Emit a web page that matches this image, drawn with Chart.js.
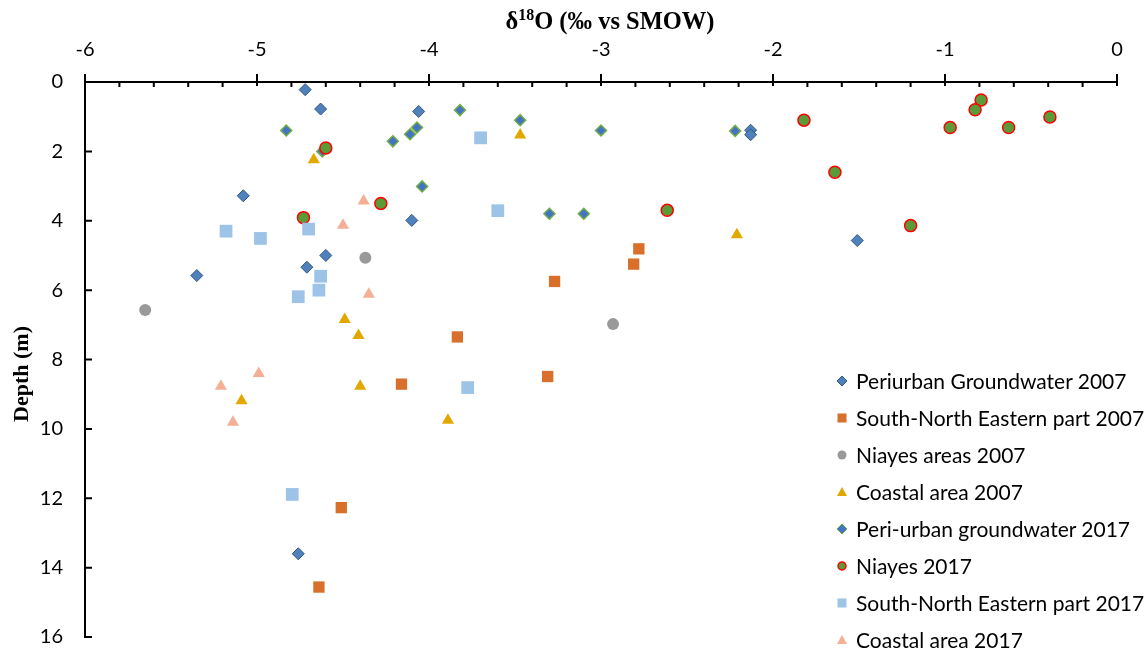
<!DOCTYPE html>
<html>
<head>
<meta charset="utf-8">
<script src="https://cdn.jsdelivr.net/npm/chart.js@4.4.1/dist/chart.umd.min.js"></script>
<style>
  body { margin: 0; background: #fff; overflow: hidden; }
  #wrap { position: relative; width: 1148px; height: 651px; overflow: hidden; }
  canvas { display: block; }
  #xtitle { position: absolute; left: 410px; width: 400px; top: 7px; text-align: center;
    font: bold 24.5px "Liberation Serif", serif; color: #000; }
  #xtitle sup { font-size: 16px; vertical-align: 9px; line-height: 0; }
  #ytitle { position: absolute; left: 22px; top: 374px; width: 200px; margin-left: -100px; margin-top: -14px;
    height: 28px; line-height: 28px; text-align: center; transform: rotate(-90deg);
    font: bold 22px "Liberation Serif", serif; color: #000; }
  #legend { position: absolute; left: 834px; top: 362px; font: 21px Lato, sans-serif; color: #000; }
  .row { height: 37px; display: flex; align-items: center; white-space: nowrap; }
  .row svg { width: 16px; height: 16px; margin-right: 6px; }
</style>
</head>
<body>
<div id="wrap">
  <canvas id="chart" width="1148" height="651"></canvas>
  <div id="xtitle">δ<sup>18</sup>O (‰ vs SMOW)</div>
  <div id="ytitle">Depth (m)</div>
  <div id="legend"></div>
</div>
<script>
// values: delta18O (x) and depth in m (y)
const periurban2007X = [-4.72, -4.63, -4.06, -2.13, -2.13, -5.08, -4.10, -1.51, -4.60, -4.71, -5.35, -4.76];
const periurban2007Y = [0.22, 0.78, 0.85, 1.39, 1.52, 3.28, 3.99, 4.57, 5.00, 5.34, 5.58, 13.60];

const snEastern2007X = [-2.78, -2.81, -3.27, -3.835, -3.31, -4.16, -4.51, -4.64];
const snEastern2007Y = [4.81, 5.25, 5.75, 7.35, 8.49, 8.71, 12.27, 14.56];

const niayes2007X = [-4.37, -5.65, -2.93];
const niayes2007Y = [5.07, 6.57, 6.98];

const coastal2007X = [-3.47, -4.67, -2.21, -4.49, -4.41, -4.40, -5.09, -3.89];
const coastal2007Y = [1.53, 2.24, 4.40, 6.85, 7.31, 8.77, 9.19, 9.75];

const periurban2017X = [-3.82, -3.47, -4.83, -3.00, -2.22, -4.07, -4.11, -4.21, -4.62, -4.04, -3.30, -3.10];
const periurban2017Y = [0.81, 1.10, 1.40, 1.40, 1.41, 1.31, 1.505, 1.71, 2.00, 3.01, 3.80, 3.80];

const niayes2017X = [-0.79, -0.825, -0.39, -1.82, -0.97, -0.63, -4.60, -1.64, -4.28, -2.615, -4.73, -1.20];
const niayes2017Y = [0.52, 0.80, 1.01, 1.10, 1.31, 1.31, 1.90, 2.60, 3.50, 3.70, 3.91, 4.14];

const snEastern2017X = [-3.70, -3.60, -5.18, -4.70, -4.98, -4.63, -4.64, -4.76, -3.775, -4.795];
const snEastern2017Y = [1.61, 3.71, 4.30, 4.24, 4.51, 5.60, 6.00, 6.19, 8.81, 11.89];

const coastal2017X = [-4.38, -4.50, -4.35, -4.99, -5.21, -5.14];
const coastal2017Y = [3.43, 4.13, 6.12, 8.40, 8.77, 9.81];

const xTicks = [-6, -5, -4, -3, -2, -1, 0];
const yTicks = [0, 2, 4, 6, 8, 10, 12, 14, 16];

const zip = (xs, ys) => xs.map((x, i) => ({ x, y: ys[i] }));

const series = [
  { label: 'Periurban Groundwater 2007', data: zip(periurban2007X, periurban2007Y),
    pointStyle: 'rectRot', pointRadius: 6, backgroundColor: '#4F81BD', borderColor: '#34567E', borderWidth: 1 },
  { label: 'South-North Eastern part 2007', data: zip(snEastern2007X, snEastern2007Y),
    pointStyle: 'rect', pointRadius: 8, backgroundColor: '#D86F2A', borderColor: '#D86F2A', borderWidth: 0 },
  { label: 'Niayes areas 2007', data: zip(niayes2007X, niayes2007Y),
    pointStyle: 'circle', pointRadius: 6, backgroundColor: '#999999', borderColor: '#999999', borderWidth: 0 },
  { label: 'Coastal area 2007', data: zip(coastal2007X, coastal2007Y),
    pointStyle: 'triangle', pointRadius: 7, backgroundColor: '#E3A800', borderColor: '#E3A800', borderWidth: 0 },
  { label: 'Peri-urban groundwater 2017', data: zip(periurban2017X, periurban2017Y),
    pointStyle: 'rectRot', pointRadius: 5.5, backgroundColor: '#4472C4', borderColor: '#70AD47', borderWidth: 1.5 },
  { label: 'Niayes 2017', data: zip(niayes2017X, niayes2017Y),
    pointStyle: 'circle', pointRadius: 6, backgroundColor: '#5B9A38', borderColor: '#FF0000', borderWidth: 1.5 },
  { label: 'South-North Eastern part 2017', data: zip(snEastern2017X, snEastern2017Y),
    pointStyle: 'rect', pointRadius: 9, backgroundColor: '#9DC3E6', borderColor: '#9DC3E6', borderWidth: 0 },
  { label: 'Coastal area 2017', data: zip(coastal2017X, coastal2017Y),
    pointStyle: 'triangle', pointRadius: 7, backgroundColor: '#F4AF96', borderColor: '#F4AF96', borderWidth: 0 }
];

// excel stacks later series on top
series.forEach((s, i) => { s.order = series.length - 1 - i; s.pointHoverRadius = s.pointRadius; });

// axis lines with inner minor ticks on top, major ticks crossing
const axisPlugin = {
  id: 'axisLines',
  beforeDatasetsDraw(chart) {
    const { ctx, chartArea: a, scales } = chart;
    const sx = scales.x, sy = scales.y;
    ctx.save();
    ctx.strokeStyle = '#000';
    ctx.lineWidth = 2;
    ctx.beginPath();
    ctx.moveTo(a.left - 1, a.top);
    ctx.lineTo(a.right + 1, a.top);
    ctx.moveTo(a.left, a.top);
    ctx.lineTo(a.left, a.bottom + 1);
    for (let i = 0; i <= 30; i++) {
      const px = sx.getPixelForValue(xTicks[0] + i * 0.2);
      if (i % 5 === 0) { ctx.moveTo(px, a.top - 8); ctx.lineTo(px, a.top + 4); }
      else { ctx.moveTo(px, a.top); ctx.lineTo(px, a.top + 5); }
    }
    yTicks.forEach(v => {
      const py = sy.getPixelForValue(v);
      ctx.moveTo(a.left, py);
      ctx.lineTo(a.left + 7, py);
    });
    ctx.stroke();
    ctx.restore();
  }
};

const tickFont = { family: 'Lato', size: 20 };
const noPad = s => { s.paddingTop = 0; s.paddingBottom = 0; s.paddingLeft = 0; s.paddingRight = 0; };

new Chart(document.getElementById('chart'), {
  type: 'scatter',
  data: { datasets: series },
  options: {
    responsive: false,
    animation: false,
    layout: { padding: { left: 0, top: 0, right: 31, bottom: 14 } },
    plugins: { legend: { display: false }, tooltip: { enabled: false } },
    scales: {
      x: {
        type: 'linear', position: 'top', min: -6, max: 0,
        afterFit: s => { s.height = 82; noPad(s); },
        grid: { display: false, drawTicks: false },
        border: { display: false },
        ticks: { stepSize: 1, color: '#000', font: tickFont, padding: 20 }
      },
      y: {
        type: 'linear', reverse: true, min: 0, max: 16,
        afterFit: s => { s.width = 85; noPad(s); },
        grid: { display: false, drawTicks: false },
        border: { display: false },
        ticks: { stepSize: 2, color: '#000', font: tickFont, padding: 22 }
      }
    }
  },
  plugins: [axisPlugin]
});

// html legend built from the datasets
const shapes = {
  rectRot: c => `<polygon points="8,3 13,8 8,13 3,8" fill="${c.backgroundColor}" stroke="${c.borderColor}" stroke-width="${c.borderWidth ? 1 : 0}"/>`,
  rect: c => `<rect x="3.5" y="3.5" width="9" height="9" fill="${c.backgroundColor}"/>`,
  circle: c => `<circle cx="8" cy="8" r="${c.borderWidth > 1 ? 4 : 4.5}" fill="${c.backgroundColor}" stroke="${c.borderColor}" stroke-width="${c.borderWidth > 1 ? 1.5 : 0}"/>`,
  triangle: c => `<polygon points="8,3 13,12 3,12" fill="${c.backgroundColor}"/>`
};
document.getElementById('legend').innerHTML = series.map(s =>
  `<div class="row"><svg viewBox="0 0 16 16">${shapes[s.pointStyle](s)}</svg><span>${s.label}</span></div>`
).join('');
</script>
</body>
</html>
